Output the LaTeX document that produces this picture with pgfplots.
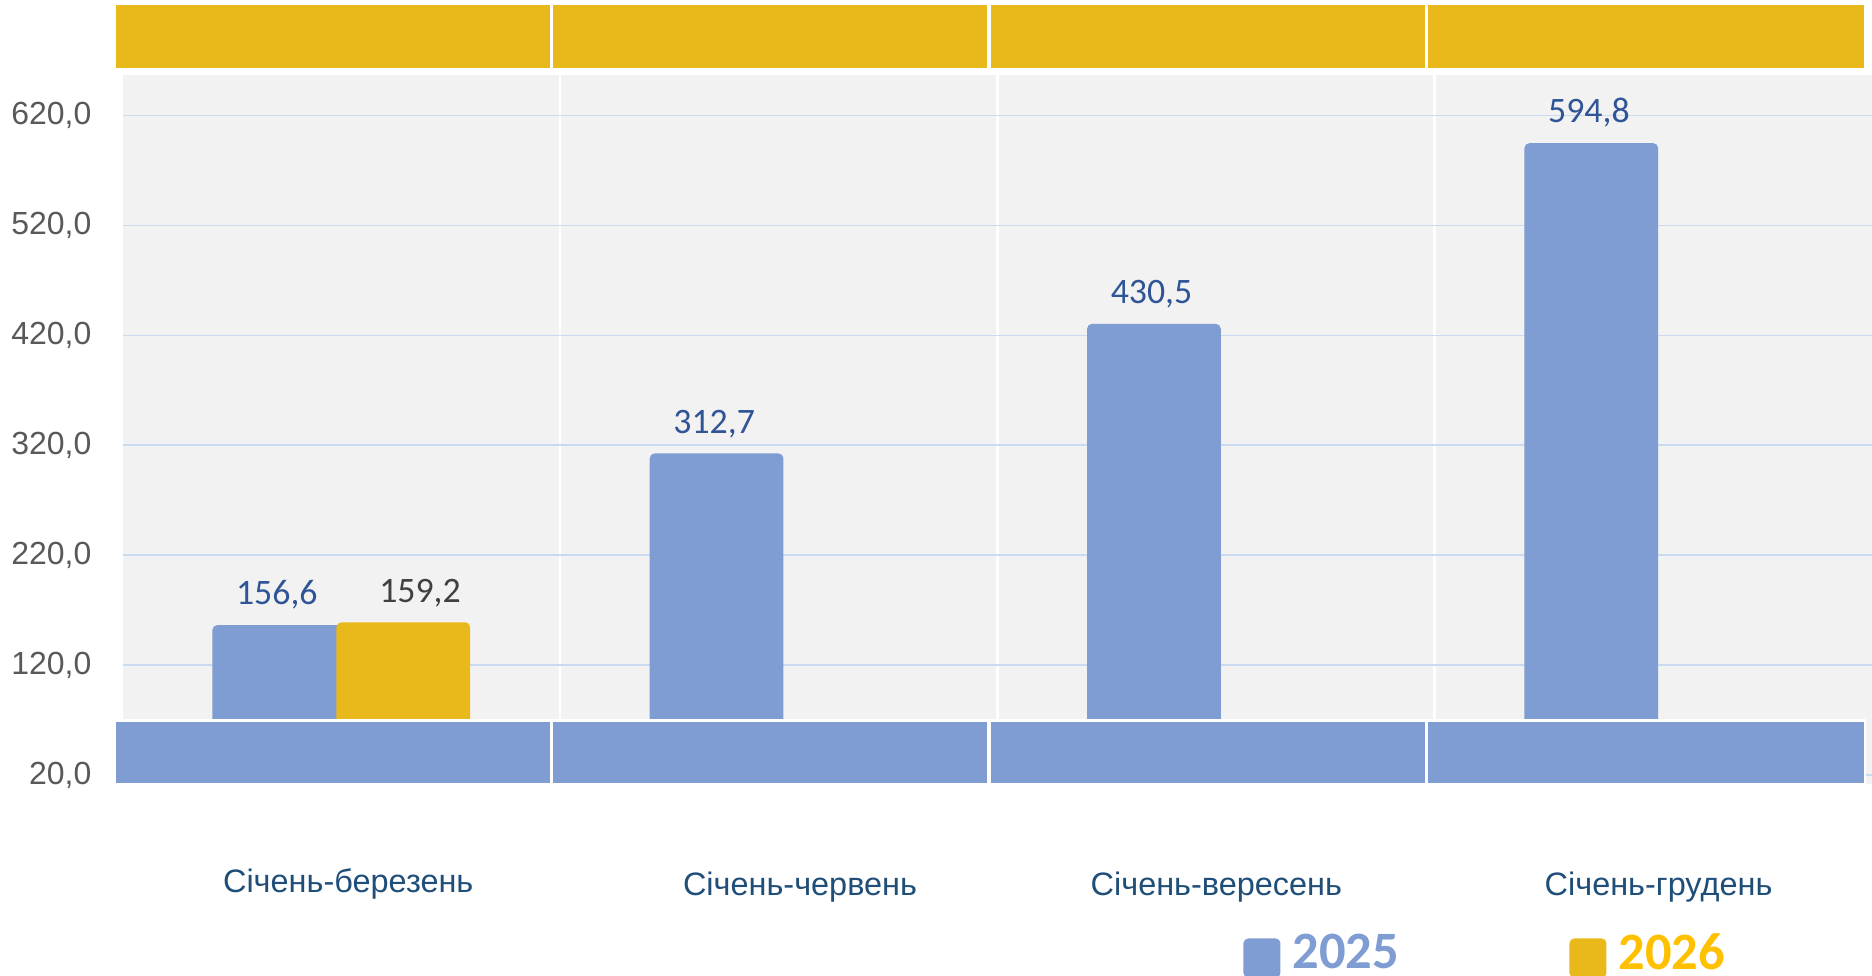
\documentclass[border=0pt]{standalone}
\usepackage{pgfplots}
\pgfplotsset{compat=1.18}
\usepackage{fontspec}
\setmainfont{Liberation Sans}
\newfontfamily\carlito{Carlito}
\definecolor{barblue}{HTML}{7F9DD2}
\definecolor{baryel}{HTML}{E9B81A}
\definecolor{bgg}{HTML}{F2F2F2}
\definecolor{gridb}{HTML}{C9DBF0}
\definecolor{tickg}{HTML}{595959}
\definecolor{catb}{HTML}{1F4E79}
\definecolor{lab25}{HTML}{2F5597}
\definecolor{lab26}{HTML}{404040}
\definecolor{leg25}{HTML}{7F9DD2}
\definecolor{leg26}{HTML}{FFC000}
\begin{document}
\begin{tikzpicture}
\useasboundingbox (-47.7pt,-80.5pt) rectangle (736.66pt,328.4pt);
\begin{axis}[
  scale only axis, width=736.66pt, height=328.4pt,
  xmin=-0.52, xmax=3.5, ymin=12.4, ymax=725,
  axis line style={draw=none}, tick style={draw=none},
  major tick length=0pt, minor tick length=0pt,
  axis background/.style={fill=bgg},
  ytick={20,120,220,320,420,520,620},
  yticklabels={{20,0},{120,0},{220,0},{320,0},{420,0},{520,0},{620,0}},
  yticklabel style={font=\fontsize{13.4}{16}\selectfont, color=tickg, anchor=east, inner sep=0pt, xshift=-9.2pt},
  ymajorgrids, xmajorgrids=false,
  major grid style={gridb, line width=0.8pt},
  xtick={0.016,1.049,2.001,3.012},
  xticklabels={\raisebox{1.5pt}{Січень-березень},Січень-червень,Січень-вересень,Січень-грудень},
  xticklabel style={font=\fontsize{13.6}{16}\selectfont, color=catb, anchor=base, inner sep=0pt, yshift=-47pt},
  minor xtick={0.5,1.5,2.5}, xminorgrids,
  minor x grid style={white, line width=1.2pt},
  legend style={at={(axis description cs:0.6425,-0.2476)}, anchor=south west, draw=none, fill=none,
    inner sep=0pt, outer sep=0pt, legend columns=2,
    font=\carlito\bfseries\fontsize{22}{26}\selectfont,
    /tikz/every odd column/.append style={column sep=5pt},
    /tikz/every even column/.append style={column sep=71.5pt},
    nodes={inner sep=0pt}},
]
% white strips outside the grey plotting area
\addplot[fill=white, draw=none, forget plot] coordinates {(-0.52,12.4) (-0.5,12.4) (-0.5,725) (-0.52,725)} -- cycle;
\addplot[fill=white, draw=none, forget plot] coordinates {(-0.52,656.9) (3.5,656.9) (3.5,725) (-0.52,725)} -- cycle;
% bars
\addplot[ybar, bar width=56pt, bar shift=-26pt, fill=barblue, draw=none, rounded corners=2pt,
  nodes near coords={\pgfmathprintnumber[fixed,fixed zerofill,precision=1,use comma,assume math mode=true]{\pgfplotspointmeta}},
  every node near coord/.append style={font=\carlito\fontsize{15}{18}\selectfont, color=lab25, anchor=base, inner sep=0pt, yshift=8.5pt, xshift=-27pt},
  legend image code/.code={\fill[barblue, rounded corners=2pt] (0pt,-10.25pt) rectangle (15.5pt,6.25pt);}]
  coordinates {(0,156.6) (1,312.7) (2,430.5) (3,594.8)};
\addlegendentry{\textcolor{leg25}{2025}}
\addplot[ybar, bar width=56pt, bar shift=26pt, fill=baryel, draw=none, rounded corners=2pt,
  nodes near coords={\pgfmathprintnumber[fixed,fixed zerofill,precision=1,use comma,assume math mode=true]{\pgfplotspointmeta}},
  every node near coord/.append style={font=\carlito\fontsize{15}{18}\selectfont, color=lab26, anchor=base, inner sep=0pt, yshift=8.5pt, xshift=33pt},
  legend image code/.code={\fill[baryel, rounded corners=2pt] (0pt,-10.25pt) rectangle (15.5pt,6.25pt);}]
  coordinates {(0,159.2)};
\addlegendentry{\textcolor{leg26}{2026}}
% bottom band
\addplot[fill=barblue, draw=white, line width=1pt, forget plot] coordinates {(-0.518,12.4) (0.48,12.4) (0.48,69.9) (-0.518,69.9)} -- cycle;
\addplot[fill=barblue, draw=white, line width=1pt, forget plot] coordinates {(0.482,12.4) (1.48,12.4) (1.48,69.9) (0.482,69.9)} -- cycle;
\addplot[fill=barblue, draw=white, line width=1pt, forget plot] coordinates {(1.482,12.4) (2.48,12.4) (2.48,69.9) (1.482,69.9)} -- cycle;
\addplot[fill=barblue, draw=white, line width=1pt, forget plot] coordinates {(2.482,12.4) (3.484,12.4) (3.484,69.9) (2.482,69.9)} -- cycle;
% top band
\addplot[fill=baryel, draw=white, line width=1pt, forget plot] coordinates {(-0.518,662.3) (0.48,662.3) (0.48,721.5) (-0.518,721.5)} -- cycle;
\addplot[fill=baryel, draw=white, line width=1pt, forget plot] coordinates {(0.482,662.3) (1.48,662.3) (1.48,721.5) (0.482,721.5)} -- cycle;
\addplot[fill=baryel, draw=white, line width=1pt, forget plot] coordinates {(1.482,662.3) (2.48,662.3) (2.48,721.5) (1.482,721.5)} -- cycle;
\addplot[fill=baryel, draw=white, line width=1pt, forget plot] coordinates {(2.482,662.3) (3.484,662.3) (3.484,721.5) (2.482,721.5)} -- cycle;
\end{axis}
\end{tikzpicture}
\end{document}
